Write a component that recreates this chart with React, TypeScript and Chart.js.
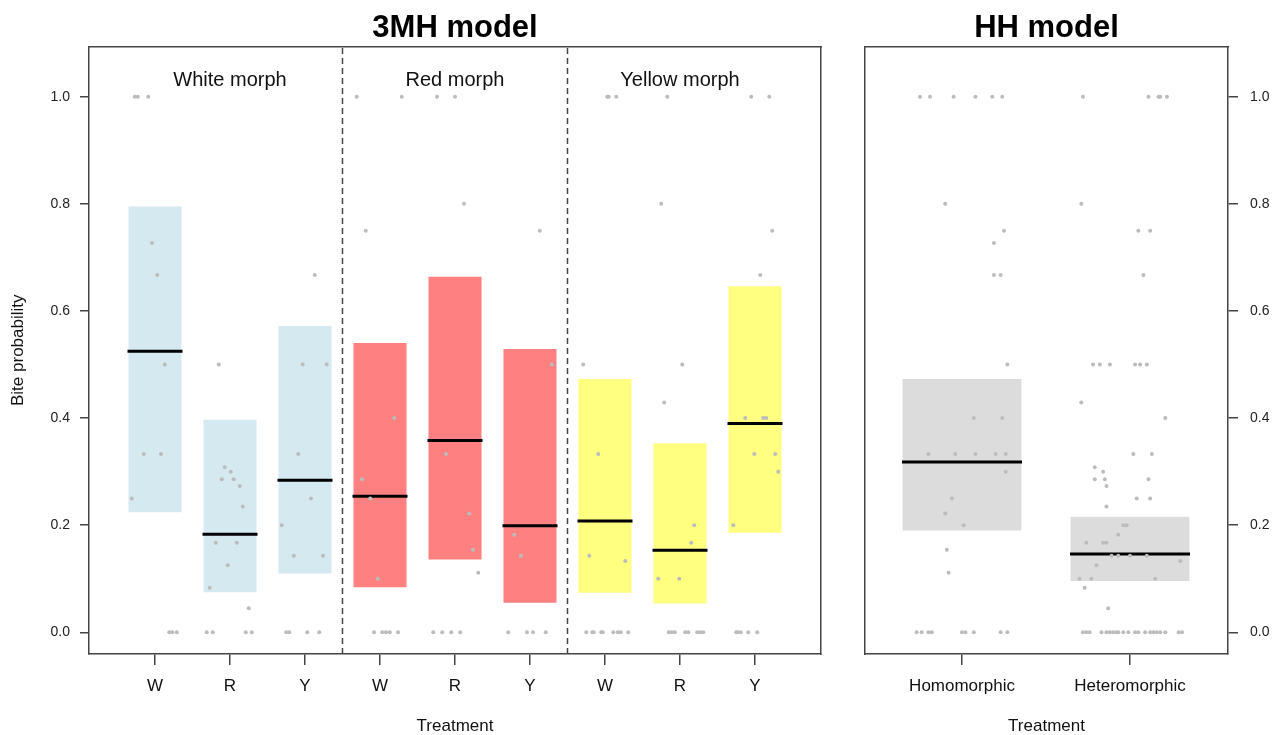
import React, { useEffect, useRef } from "react";
import { Chart, registerables } from "chart.js";
Chart.register(...registerables);

// ---------- data ----------
const treatments3MH = ["W", "R", "Y", "W", "R", "Y", "W", "R", "Y"];
const morphLabels = ["White morph", "Red morph", "Yellow morph"];
const morphCenters = [2, 5, 8];
const morphSeparators = [3.5, 6.5];
const barLow3MH = [0.224, 0.075, 0.11, 0.084, 0.136, 0.055, 0.074, 0.054, 0.186];
const barHigh3MH = [0.795, 0.397, 0.572, 0.54, 0.664, 0.529, 0.473, 0.353, 0.646];
const mean3MH = [0.525, 0.183, 0.284, 0.254, 0.358, 0.199, 0.208, 0.153, 0.39];
const barColors3MH = ["#D5E9F1", "#D5E9F1", "#D5E9F1", "#FF8080", "#FF8080", "#FF8080", "#FFFF80", "#FFFF80", "#FFFF80"];

const treatmentsHH = ["Homomorphic", "Heteromorphic"];
const barLowHH = [0.19, 0.096];
const barHighHH = [0.473, 0.216];
const meanHH = [0.318, 0.146];
const barColorsHH = ["#DCDCDC", "#DCDCDC"];

const yTicks = [0, 0.2, 0.4, 0.6, 0.8, 1.0];

// observed points: [jitter offset from category centre, bite probability]
const ptsWW: [number, number][] = [[-0.27, 1], [-0.23, 1], [-0.09, 1], [-0.04, 0.727], [0.03, 0.667], [0.13, 0.5], [-0.15, 0.333], [0.08, 0.333], [-0.31, 0.25], [0.19, 0], [0.23, 0], [0.29, 0]];
const ptsWR: [number, number][] = [[-0.15, 0.5], [-0.07, 0.308], [0.01, 0.3], [-0.11, 0.286], [0.05, 0.286], [0.13, 0.273], [0.17, 0.235], [-0.19, 0.167], [0.09, 0.167], [-0.03, 0.125], [-0.27, 0.083], [0.25, 0.045], [-0.31, 0], [-0.23, 0], [0.21, 0], [0.29, 0]];
const ptsWY: [number, number][] = [[0.13, 0.667], [-0.03, 0.5], [0.29, 0.5], [-0.09, 0.333], [0.08, 0.25], [-0.31, 0.2], [-0.15, 0.143], [0.24, 0.143], [-0.25, 0], [-0.21, 0], [0.03, 0], [0.19, 0]];
const ptsRW: [number, number][] = [[-0.31, 1], [0.29, 1], [-0.19, 0.75], [0.19, 0.4], [-0.24, 0.286], [-0.13, 0.25], [-0.03, 0.1], [-0.08, 0], [0.03, 0], [0.08, 0], [0.13, 0], [0.24, 0]];
const ptsRR: [number, number][] = [[-0.24, 1], [0, 1], [0.12, 0.8], [-0.12, 0.333], [0.19, 0.222], [0.24, 0.154], [0.31, 0.111], [-0.29, 0], [-0.17, 0], [-0.05, 0], [0.07, 0]];
const ptsRY: [number, number][] = [[0.13, 0.75], [0.29, 0.5], [-0.21, 0.182], [-0.12, 0.143], [-0.29, 0], [-0.04, 0], [0.04, 0], [0.21, 0]];
const ptsYW: [number, number][] = [[0.03, 1], [0.05, 1], [0.15, 1], [-0.29, 0.5], [-0.09, 0.333], [-0.21, 0.143], [0.27, 0.133], [-0.25, 0], [-0.17, 0], [-0.15, 0], [-0.05, 0], [-0.03, 0], [0.11, 0], [0.17, 0], [0.21, 0], [0.31, 0]];
const ptsYR: [number, number][] = [[-0.17, 1], [-0.25, 0.8], [0.03, 0.5], [-0.21, 0.429], [0.19, 0.2], [0.15, 0.167], [-0.29, 0.1], [-0.01, 0.1], [-0.15, 0], [-0.11, 0], [-0.07, 0], [0.07, 0], [0.11, 0], [0.23, 0], [0.27, 0], [0.31, 0]];
const ptsYY: [number, number][] = [[-0.05, 1], [0.19, 1], [0.23, 0.75], [0.07, 0.667], [-0.13, 0.4], [0.11, 0.4], [0.15, 0.4], [-0.01, 0.333], [0.27, 0.333], [0.31, 0.3], [-0.29, 0.2], [-0.25, 0], [-0.23, 0], [-0.19, 0], [-0.09, 0], [0.03, 0]];
const ptsHomo: [number, number][] = [[-0.25, 1], [-0.19, 1], [-0.05, 1], [0.08, 1], [0.18, 1], [0.24, 1], [-0.1, 0.8], [0.25, 0.75], [0.19, 0.727], [0.19, 0.667], [0.23, 0.667], [0.27, 0.5], [0.07, 0.4], [0.24, 0.4], [-0.2, 0.333], [-0.04, 0.333], [0.08, 0.333], [0.2, 0.333], [0.26, 0.333], [0.26, 0.3], [-0.06, 0.25], [-0.1, 0.222], [0.01, 0.2], [-0.09, 0.154], [-0.08, 0.111], [-0.27, 0], [-0.24, 0], [-0.2, 0], [-0.18, 0], [0, 0], [0.02, 0], [0.07, 0], [0.23, 0], [0.27, 0]];
const ptsHetero: [number, number][] = [[-0.28, 1], [0.11, 1], [0.17, 1], [0.18, 1], [0.22, 1], [-0.29, 0.8], [0.05, 0.75], [0.12, 0.75], [0.08, 0.667], [-0.22, 0.5], [-0.18, 0.5], [-0.12, 0.5], [0.03, 0.5], [0.06, 0.5], [0.1, 0.5], [-0.29, 0.429], [0.21, 0.4], [0.02, 0.333], [0.13, 0.333], [-0.21, 0.308], [-0.16, 0.3], [-0.21, 0.286], [-0.15, 0.286], [0.11, 0.286], [-0.14, 0.273], [0.04, 0.25], [0.12, 0.25], [-0.14, 0.235], [-0.04, 0.2], [-0.02, 0.2], [-0.07, 0.182], [-0.26, 0.167], [-0.16, 0.167], [-0.14, 0.167], [-0.11, 0.143], [-0.07, 0.143], [0, 0.143], [0.1, 0.143], [0.3, 0.133], [-0.2, 0.125], [-0.3, 0.1], [-0.23, 0.1], [0.15, 0.1], [-0.27, 0.083], [-0.13, 0.045], [-0.28, 0], [-0.26, 0], [-0.24, 0], [-0.17, 0], [-0.14, 0], [-0.12, 0], [-0.1, 0], [-0.08, 0], [-0.07, 0], [-0.04, 0], [-0.01, 0], [0.03, 0], [0.05, 0], [0.09, 0], [0.12, 0], [0.14, 0], [0.16, 0], [0.18, 0], [0.21, 0], [0.29, 0], [0.31, 0]];

const groups3MH = [ptsWW, ptsWR, ptsWY, ptsRW, ptsRR, ptsRY, ptsYW, ptsYR, ptsYY];
const groupsHH = [ptsHomo, ptsHetero];

// ---------- styles ----------
const FONT = "'Liberation Sans', Arial, Helvetica, sans-serif";
const FRAME = "#444444";
const Y_MIN = -0.0405;
const Y_MAX = 1.0938;

const morphLabelPlugin = {
  id: "morphLabels",
  afterDatasetsDraw(chart: any) {
    const x = chart.scales.x;
    const { top } = chart.chartArea;
    const ctx = chart.ctx;
    ctx.save();
    ctx.font = `20px ${FONT}`;
    ctx.fillStyle = "#111";
    ctx.textAlign = "center";
    ctx.textBaseline = "alphabetic";
    morphLabels.forEach((lab, i) => {
      ctx.fillText(lab, x.getPixelForValue(morphCenters[i]), top + 39);
    });
    ctx.restore();
  },
};

function noPad(s: any) {
  s.paddingLeft = 0;
  s.paddingRight = 0;
  s.paddingTop = 0;
  s.paddingBottom = 0;
}

function frameAxis(position: string, min: number, max: number, size: number) {
  return {
    type: "linear",
    position,
    min,
    max,
    offset: false,
    ticks: { display: false },
    grid: { display: false, offset: false },
    border: { display: true, color: FRAME, width: 1.5 },
    afterFit: (s: any) => {
      if (position === "top" || position === "bottom") s.height = size;
      else s.width = size;
      noPad(s);
    },
  };
}

function buildConfig(opts: {
  title: string;
  cats: string[];
  low: number[];
  high: number[];
  means: number[];
  colors: string[];
  groups: [number, number][][];
  xMin: number;
  xMax: number;
  meanHalf: number;
  yPos: "left" | "right";
  yWidth: number;
  otherWidth: number;
  yTitle: string | null;
  tickPad: number;
  tickLen: number;
  separators: number[];
}): any {
  const points: { x: number; y: number }[] = [];
  opts.groups.forEach((g, i) => g.forEach(([dx, v]) => points.push({ x: i + 1 + dx, y: v })));
  const datasets: any[] = [
    {
      type: "bar",
      data: opts.cats.map((_, i) => ({ x: i + 1, y: [opts.low[i], opts.high[i]] })),
      backgroundColor: opts.colors,
      borderWidth: 0,
      categoryPercentage: 1,
      barPercentage: 0.707,
      order: 4,
    },
    {
      type: "scatter",
      data: opts.means.map((m, i) => ({ x: i + 1, y: m })),
      pointStyle: "line",
      pointRadius: opts.meanHalf,
      pointBorderColor: "#000",
      pointBorderWidth: 3,
      borderColor: "#000",
      order: 3,
    },
    {
      type: "scatter",
      data: points,
      pointRadius: 2,
      pointBackgroundColor: "#BCBCBC",
      pointBorderWidth: 0,
      order: 2,
    },
    ...opts.separators.map((s) => ({
      type: "line",
      data: [
        { x: s, y: Y_MIN },
        { x: s, y: Y_MAX },
      ],
      borderColor: FRAME,
      borderWidth: 1.5,
      borderDash: [6, 4],
      pointRadius: 0,
      order: 1,
    })),
  ];

  const otherPos = opts.yPos === "left" ? "right" : "left";
  return {
    type: "scatter",
    data: { datasets },
    plugins: opts.separators.length ? [morphLabelPlugin] : [],
    options: {
      responsive: false,
      animation: false,
      events: [],
      layout: { padding: 0, autoPadding: false },
      plugins: {
        legend: { display: false },
        tooltip: { enabled: false },
        title: {
          display: true,
          fullSize: false,
          text: opts.title,
          color: "#000",
          font: { family: FONT, size: 31, weight: "bold", lineHeight: 1 },
          padding: { top: 12.5, bottom: 3 },
        },
      },
      scales: {
        x: {
          type: "linear",
          position: "bottom",
          min: opts.xMin,
          max: opts.xMax,
          offset: false,
          afterBuildTicks: (s: any) => {
            s.ticks = opts.cats.map((_, i) => ({ value: i + 1 }));
          },
          ticks: {
            callback: (_v: any, i: number) => opts.cats[i],
            font: { family: FONT, size: 17 },
            color: "#111",
            padding: 11,
            maxRotation: 0,
            minRotation: 0,
            autoSkip: false,
          },
          grid: { display: true, offset: false, drawOnChartArea: false, drawTicks: true, tickLength: 11, color: FRAME, lineWidth: 1.5 },
          border: { display: true, color: FRAME, width: 1.5 },
          title: { display: true, text: "Treatment", color: "#111", font: { family: FONT, size: 17, lineHeight: 1 }, padding: 0 },
          afterFit: (s: any) => {
            s.height = 81;
            noPad(s);
          },
        },
        y: {
          type: "linear",
          position: opts.yPos,
          min: Y_MIN,
          max: Y_MAX,
          afterBuildTicks: (s: any) => {
            s.ticks = yTicks.map((v) => ({ value: v }));
          },
          ticks: {
            callback: (v: any) => Number(v).toFixed(1),
            font: { family: FONT, size: 14 },
            color: "#222",
            padding: opts.tickPad,
          },
          grid: { display: true, drawOnChartArea: false, drawTicks: true, tickLength: opts.tickLen, color: FRAME, lineWidth: 1.5 },
          border: { display: true, color: FRAME, width: 1.5 },
          title: opts.yTitle
            ? { display: true, text: opts.yTitle, color: "#111", font: { family: FONT, size: 17 }, padding: { top: 8, bottom: 0 } }
            : { display: false },
          afterFit: (s: any) => {
            s.width = opts.yWidth;
            noPad(s);
          },
        },
        xTop: frameAxis("top", opts.xMin, opts.xMax, 0),
        ySide: frameAxis(otherPos, Y_MIN, Y_MAX, opts.otherWidth),
      },
    },
  };
}

export default function App() {
  const leftRef = useRef<HTMLCanvasElement>(null);
  const rightRef = useRef<HTMLCanvasElement>(null);

  useEffect(() => {
    const left = new Chart(
      leftRef.current as HTMLCanvasElement,
      buildConfig({
        title: "3MH model",
        cats: treatments3MH,
        low: barLow3MH,
        high: barHigh3MH,
        means: mean3MH,
        colors: barColors3MH,
        groups: groups3MH,
        xMin: 0.12,
        xMax: 9.88,
        meanHalf: 27.5,
        yPos: "left",
        yWidth: 89,
        otherWidth: 22,
        yTitle: "Bite probability",
        tickPad: 10,
        tickLen: 9,
        separators: morphSeparators,
      })
    );
    const right = new Chart(
      rightRef.current as HTMLCanvasElement,
      buildConfig({
        title: "HH model",
        cats: treatmentsHH,
        low: barLowHH,
        high: barHighHH,
        means: meanHH,
        colors: barColorsHH,
        groups: groupsHH,
        xMin: 0.4226,
        xMax: 2.5833,
        meanHalf: 60,
        yPos: "right",
        yWidth: 46,
        otherWidth: 22,
        yTitle: null,
        tickPad: 12,
        tickLen: 10,
        separators: [],
      })
    );
    return () => {
      left.destroy();
      right.destroy();
    };
  }, []);

  return (
    <div style={{ position: "absolute", left: 0, top: 0, width: 1274, height: 735, background: "#fff" }}>
      <canvas ref={leftRef} width={843} height={735} style={{ position: "absolute", left: 0, top: 0 }} />
      <canvas ref={rightRef} width={431} height={735} style={{ position: "absolute", left: 843, top: 0 }} />
    </div>
  );
}
